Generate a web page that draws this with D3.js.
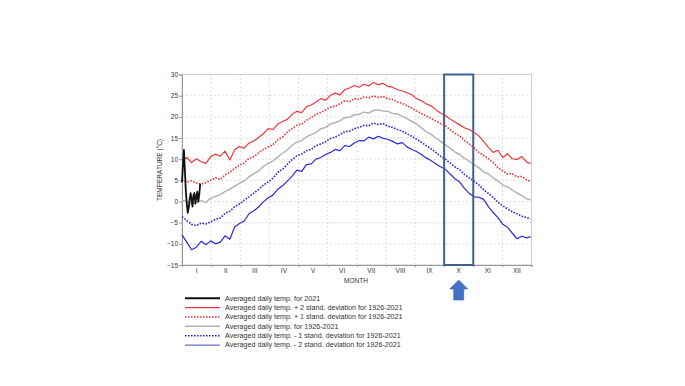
<!DOCTYPE html>
<html>
<head>
<meta charset="utf-8">
<script src="https://cdn.jsdelivr.net/npm/d3@7"></script>
<style>
  body { margin: 0; background: #fff; }
  svg { display: block; font-family: "Liberation Sans", Arial, sans-serif; }
</style>
</head>
<body>
<div id="chart"></div>
<script>
// month labels and y ticks
var months = ['I', 'II', 'III', 'IV', 'V', 'VI', 'VII', 'VIII', 'IX', 'X', 'XI', 'XII'];
var yTicks = [-15, -10, -5, 0, 5, 10, 15, 20, 25, 30];

// sample days for the long-term series (every 5 days)
var days = d3.range(0, 365, 5).concat([364]);

var plus2 = [9.6, 10.4, 9.2, 10.1, 9.4, 9.0, 10.6, 11.2, 10.7, 11.9, 9.8, 12.2, 13.0, 12.6, 13.8, 14.3, 15.1, 16.0, 17.2, 17.0,
  18.3, 18.9, 19.4, 20.6, 21.3, 21.0, 22.4, 22.8, 23.5, 24.3, 23.9, 25.1, 25.6, 25.2, 26.4, 26.8, 27.4, 27.0, 27.7, 27.3,
  28.1, 27.6, 27.9, 27.2, 27.0, 26.4, 26.1, 25.7, 25.2, 24.3, 23.8, 23.1, 22.6, 21.7, 20.9, 20.3, 19.5, 18.8, 18.1, 17.4,
  17.0, 16.3, 15.5, 14.2, 12.8, 11.6, 12.1, 10.4, 11.3, 10.1, 9.9, 10.6, 9.3, 9.0];

var plus1 = [5.1, 4.6, 4.9, 4.4, 4.1, 4.5, 5.0, 5.6, 5.2, 6.3, 6.9, 7.8, 8.6, 9.1, 10.2, 10.6, 11.5, 12.3, 12.9, 13.4,
  14.6, 15.2, 16.4, 17.2, 18.0, 18.3, 19.2, 19.8, 20.6, 21.0, 21.6, 22.3, 22.5, 23.1, 23.8, 23.6, 24.3, 24.1, 24.7, 24.5,
  24.9, 24.6, 24.8, 24.3, 24.1, 23.5, 23.2, 22.6, 22.1, 21.4, 20.8, 20.2, 19.7, 19.0, 18.4, 17.9, 17.0, 16.1, 15.5, 14.4,
  13.6, 12.7, 11.6, 10.9, 10.1, 9.2, 8.0, 7.2, 6.5, 6.6, 5.8, 5.9, 5.1, 4.7];

var mean = [0.3, 0.0, -0.6, -0.3, 0.2, -0.2, 0.8, 1.2, 1.6, 2.4, 2.9, 3.6, 4.3, 4.9, 5.8, 6.6, 7.2, 8.3, 9.0, 9.6,
  10.5, 11.4, 12.2, 13.3, 14.0, 14.4, 15.3, 15.8, 16.3, 17.2, 17.5, 18.3, 18.6, 19.1, 19.8, 19.9, 20.5, 20.6, 21.1, 20.9,
  21.5, 21.6, 21.4, 21.3, 20.8, 20.7, 20.1, 19.6, 18.9, 18.3, 17.4, 16.5, 15.9, 15.0, 14.2, 13.4, 12.6, 11.7, 11.1, 10.2,
  9.5, 8.7, 8.0, 7.0, 6.5, 5.6, 4.8, 3.9, 3.4, 2.7, 2.0, 1.4, 0.6, 0.4];

var minus1 = [-3.6, -4.5, -5.4, -5.7, -5.1, -5.3, -4.8, -4.2, -3.9, -2.8, -2.3, -1.2, -0.6, 0.3, 1.1, 2.0, 2.8, 3.9, 4.6, 5.5,
  6.9, 7.6, 8.8, 9.9, 10.8, 11.2, 12.0, 12.3, 13.2, 13.6, 14.1, 14.9, 15.2, 15.8, 16.5, 16.6, 17.2, 17.5, 18.0, 17.9,
  18.5, 18.2, 18.4, 17.8, 17.5, 17.0, 16.6, 16.0, 15.4, 14.7, 14.0, 13.2, 12.5, 11.6, 10.7, 10.0, 9.1, 8.2, 7.5, 6.4,
  5.6, 4.8, 3.9, 2.8, 1.9, 1.0, -0.2, -1.0, -1.8, -2.4, -2.9, -3.5, -3.8, -4.1];

var minus2 = [-7.9, -9.6, -11.4, -10.8, -9.4, -10.2, -9.3, -10.0, -9.6, -8.1, -8.9, -6.0, -5.2, -4.6, -2.9, -2.2, -1.3, -0.1, 0.9, 1.5,
  2.9, 3.7, 4.8, 6.0, 7.4, 7.1, 8.7, 8.9, 10.0, 10.4, 11.1, 11.6, 12.3, 12.0, 13.2, 13.0, 13.8, 14.4, 14.3, 15.2,
  14.8, 15.4, 14.9, 14.7, 14.2, 13.6, 13.9, 12.9, 12.3, 11.8, 11.1, 10.3, 9.7, 8.9, 8.2, 7.6, 6.5, 5.4, 4.6, 3.1,
  1.9, 1.1, 1.0, 0.5, -1.2, -2.6, -3.8, -5.4, -6.1, -7.5, -8.8, -8.2, -8.6, -8.3];

// daily values for 2021 (first days of January)
var days2021 = [0, 1, 2, 3, 4, 5, 6, 7, 8, 9, 10, 11, 12, 13, 14, 15, 16, 17, 18, 19];
var temp2021 = [4.5, 8.5, 12.2, 7.5, 2.5, -0.5, -2.7, -1.5, 0.5, 2.0, 0.5, -1.2, 1.5, 2.0, -0.5, 1.0, 2.3, 0.0, 1.5, 4.2];

var legendItems = [
  { label: 'Averaged daily temp. for 2021', color: '#111', width: 2, dash: null },
  { label: 'Averaged daily temp. + 2 stand. deviation for 1926-2021', color: '#e8383d', width: 1.2, dash: null },
  { label: 'Averaged daily temp. + 1 stand. deviation for 1926-2021', color: '#e8383d', width: 1.6, dash: '1.6,1.4' },
  { label: 'Averaged daily temp. for 1926-2021', color: '#b4b4b4', width: 1.5, dash: null },
  { label: 'Averaged daily temp. - 1 stand. deviation for 1926-2021', color: '#2b2bd6', width: 1.6, dash: '1.6,1.4' },
  { label: 'Averaged daily temp. - 2 stand. deviation for 1926-2021', color: '#6a6ad8', width: 1.2, dash: null }
];

var svg = d3.select('#chart')
  .append('svg')
  .attr('width', 685)
  .attr('height', 386);

var x = d3.scaleLinear().domain([0, 365]).range([182, 531.5]);
var y = d3.scaleLinear().domain([-15, 30]).range([265, 74.5]);

// grid
var grid = svg.append('g');
grid.selectAll('.hg')
  .data(yTicks)
  .enter()
  .append('line')
  .attr('x1', x(0)).attr('x2', x(365))
  .attr('y1', (d) => y(d)).attr('y2', (d) => y(d))
  .attr('stroke', '#d4d4d4')
  .attr('stroke-dasharray', '1.5,2.5');

grid.selectAll('.vg')
  .data(d3.range(1, 12))
  .enter()
  .append('line')
  .attr('x1', (d) => x(d * 365 / 12)).attr('x2', (d) => x(d * 365 / 12))
  .attr('y1', y(30)).attr('y2', y(-15))
  .attr('stroke', '#d4d4d4')
  .attr('stroke-dasharray', '1.5,2.5');

// frame
svg.append('rect')
  .attr('x', x(0)).attr('y', y(30))
  .attr('width', x(365) - x(0)).attr('height', y(-15) - y(30))
  .attr('fill', 'none')
  .attr('stroke', '#cfcfcf')
  .attr('stroke-width', 1);

// y axis
var yAxis = d3.axisLeft(y).tickValues(yTicks).tickSize(3).tickPadding(1);
var yg = svg.append('g').attr('transform', 'translate(' + x(0) + ',0)').call(yAxis);
yg.select('.domain').attr('stroke', '#999');
yg.selectAll('.tick line').attr('stroke', '#999');
yg.selectAll('text').attr('font-size', 6.5).attr('fill', '#333');

// x axis: ticks at month boundaries, labels centered
var xAxis = d3.axisBottom(x).tickValues(d3.range(0, 13).map((d) => d * 365 / 12)).tickSize(2).tickFormat('');
var xg = svg.append('g').attr('transform', 'translate(0,' + y(-15) + ')').call(xAxis);
xg.select('.domain').attr('stroke', '#999');
xg.selectAll('.tick line').attr('stroke', '#999');

svg.append('g').selectAll('text')
  .data(months)
  .enter()
  .append('text')
  .attr('x', (d, i) => x((i + 0.5) * 365 / 12))
  .attr('y', 273)
  .attr('text-anchor', 'middle')
  .attr('font-size', 6.5)
  .attr('fill', '#333')
  .text((d) => d);

svg.append('text')
  .attr('x', 356).attr('y', 283)
  .attr('text-anchor', 'middle')
  .attr('font-size', 6.5)
  .attr('fill', '#333')
  .text('MONTH');

svg.append('text')
  .attr('transform', 'translate(162,170) rotate(-90)')
  .attr('text-anchor', 'middle')
  .attr('font-size', 6.5)
  .attr('fill', '#333')
  .text('TEMPERATURE (°C)');

// series
var line = d3.line()
  .x((d) => x(d[0]))
  .y((d) => y(d[1]));

function drawSeries(values, style) {
  svg.append('path')
    .datum(days.map((d, i) => [d, values[i]]))
    .attr('d', line)
    .attr('fill', 'none')
    .attr('stroke', style.color)
    .attr('stroke-width', style.width)
    .attr('stroke-dasharray', style.dash)
    .attr('stroke-linejoin', 'round');
}

drawSeries(plus2, legendItems[1]);
drawSeries(plus1, legendItems[2]);
drawSeries(mean, legendItems[3]);
drawSeries(minus1, legendItems[4]);
drawSeries(minus2, { color: '#2b2bd6', width: 1.2, dash: null });

svg.append('path')
  .datum(days2021.map((d, i) => [d, temp2021[i]]))
  .attr('d', line)
  .attr('fill', 'none')
  .attr('stroke', '#111')
  .attr('stroke-width', 1.8)
  .attr('stroke-linejoin', 'round');

// highlight box for October
svg.append('rect')
  .attr('x', x(9 * 365 / 12)).attr('y', y(30))
  .attr('width', x(365 / 12) - x(0)).attr('height', y(-15) - y(30))
  .attr('fill', 'none')
  .attr('stroke', '#41608f')
  .attr('stroke-width', 2);

// arrow pointing at October
var ax = x(9.5 * 365 / 12);
svg.append('path')
  .attr('d', 'M' + ax + ',280 L' + (ax + 9) + ',289 L' + (ax + 5) + ',289 L' + (ax + 5) + ',300 L' + (ax - 5) + ',300 L' + (ax - 5) + ',289 L' + (ax - 9) + ',289 Z')
  .attr('fill', '#4472c4')
  .attr('stroke', '#3a62a8')
  .attr('stroke-width', 0.6);

// legend
var legend = svg.append('g').selectAll('.leg')
  .data(legendItems)
  .enter()
  .append('g')
  .attr('transform', (d, i) => 'translate(185,' + (298.3 + i * 9.35) + ')');

legend.append('line')
  .attr('x1', 0).attr('x2', 35)
  .attr('stroke', (d) => d.color)
  .attr('stroke-width', (d) => d.width)
  .attr('stroke-dasharray', (d) => d.dash);

legend.append('text')
  .attr('x', 40)
  .attr('dy', '0.33em')
  .attr('font-size', 7.15)
  .attr('fill', '#333')
  .text((d) => d.label);
</script>
</body>
</html>
